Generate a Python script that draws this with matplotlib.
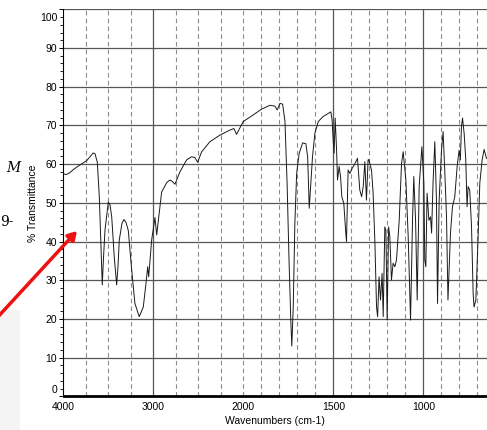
import numpy as np
import matplotlib
matplotlib.use("Agg")
import matplotlib.pyplot as plt
from matplotlib.transforms import ScaledTranslation
from matplotlib.patches import Rectangle

# IR spectrum (wavenumber cm-1, % transmittance)
wavenumber = [4000, 3972, 3928, 3891, 3817, 3742, 3669, 3650, 3624, 3602,
              3586, 3569, 3556, 3539, 3502, 3483, 3464, 3436, 3409, 3394,
              3380, 3350, 3328, 3306, 3280, 3242, 3206, 3158, 3113, 3083,
              3064, 3053, 3020, 2983, 2964, 2936, 2909, 2853, 2817, 2789,
              2761, 2706, 2631, 2576, 2539, 2509, 2464, 2372, 2261, 2150,
              2106, 2076, 2002, 1946, 1899, 1853, 1825, 1812, 1797, 1782,
              1769, 1757, 1746, 1736, 1731, 1723, 1714, 1704, 1690, 1671,
              1653, 1643, 1634, 1625, 1616, 1603, 1584, 1557, 1529, 1514,
              1507, 1501, 1496, 1490, 1482, 1477, 1468, 1460, 1453, 1442,
              1432, 1427, 1418, 1408, 1396, 1384, 1366, 1353, 1343, 1334,
              1325, 1316, 1307, 1303, 1288, 1279, 1269, 1260, 1254, 1246,
              1238, 1229, 1223, 1214, 1208, 1201, 1193, 1186, 1177, 1168,
              1158, 1149, 1134, 1121, 1112, 1097, 1084, 1071, 1060, 1053,
              1043, 1034, 1023, 1008, 997, 992, 986, 979, 969, 960,
              954, 946, 936, 927, 921, 912, 899, 890, 881, 871,
              863, 849, 838, 825, 812, 801, 794, 788, 782, 773,
              764, 757, 751, 742, 732, 723, 718, 708, 696, 686,
              673, 662, 649]
transmittance = [57.5, 57.3, 57.8, 58.6, 59.8, 60.9, 62.9, 62.7, 60.5, 51.6,
                 40.4, 28.8, 35.5, 42.9, 50.2, 49.5, 46.4, 36.1, 28.8, 33.6,
                 40.4, 44.7, 45.7, 45.0, 42.9, 32.7, 24.0, 20.6, 23.1, 29.2,
                 33.5, 30.9, 40.4, 46.2, 41.7, 47.3, 52.8, 55.2, 55.9, 55.5,
                 54.8, 58.0, 61.1, 61.9, 61.7, 60.5, 63.2, 65.8, 67.5, 68.8,
                 69.2, 67.7, 71.0, 72.7, 74.2, 75.2, 75.0, 74.0, 75.7, 75.5,
                 71.1, 54.8, 34.4, 18.9, 13.0, 23.1, 44.7, 57.6, 62.8, 65.5,
                 65.3, 61.9, 48.6, 55.1, 61.9, 67.9, 71.0, 72.3, 73.1, 73.5,
                 71.4, 66.2, 62.8, 71.9, 63.6, 55.9, 59.4, 56.8, 51.6, 49.9,
                 42.9, 40.0, 58.5, 57.6, 58.9, 59.8, 61.5, 53.3, 51.6, 54.2,
                 60.6, 50.7, 61.1, 61.2, 58.5, 52.5, 39.6, 23.1, 20.6, 30.9,
                 24.9, 31.8, 20.6, 43.8, 42.9, 19.7, 43.8, 41.2, 30.1, 34.4,
                 33.5, 35.3, 45.5, 60.2, 63.2, 55.9, 41.2, 19.7, 45.5, 56.8,
                 45.5, 24.9, 54.2, 64.5, 55.1, 35.3, 33.5, 52.5, 45.5, 46.4,
                 42.2, 55.1, 65.8, 50.7, 24.0, 50.7, 63.6, 68.4, 58.5, 46.4,
                 24.9, 42.2, 49.0, 51.6, 59.4, 63.6, 61.1, 69.7, 71.9, 67.9,
                 61.1, 49.0, 54.2, 53.3, 43.8, 26.6, 23.1, 24.9, 40.4, 55.1,
                 61.1, 63.8, 61.5]

x_labels = [4000, 3000, 2000, 1500, 1000]
solid_x = [3000, 1500, 1000]
dashed_x = [3750, 3500, 3250, 2750, 2500, 2250, 2000, 1900, 1800, 1700,
            1600, 1400, 1300, 1200, 1100, 900, 800, 700]

font = ['Liberation Sans Narrow', 'Liberation Sans', 'DejaVu Sans']


# OMNIC style axis: region below 2000 cm-1 is expanded two times
def forward(w):
    w = np.asarray(w, dtype=float)
    return np.where(w >= 2000, w, 2000 - (2000 - w) * 2)


def inverse(p):
    p = np.asarray(p, dtype=float)
    return np.where(p >= 2000, p, 2000 - (2000 - p) / 2)


fig = plt.figure(figsize=(4.87, 4.30), dpi=100)
ax = fig.add_axes([63.5 / 487, 1 - 396.4 / 430, (487 - 63.5) / 487, 387.1 / 430])
ax.set_xscale('function', functions=(forward, inverse))

for x in solid_x:
    ax.axvline(x, color='#555555', lw=0.9, zorder=1)
for x in dashed_x:
    ax.axvline(x, color='#8a8a8a', lw=0.8, ls=(0, (4, 3)), zorder=1)
for y in range(10, 101, 10):
    ax.axhline(y, color='#555555', lw=0.9, zorder=1)

ax.plot(wavenumber, transmittance, color='#1a1a1a', lw=0.7, zorder=3)

ax.set_xlim(4000, 646)
ax.set_ylim(0, 100)
ax.set_xticks(x_labels)
ax.set_xticklabels([str(v) for v in x_labels])
ax.set_xticks([], minor=True)
ax.set_yticks(range(0, 101, 10))
ax.set_yticks(range(0, 101, 2), minor=True)

ax.tick_params(axis='x', length=0, pad=4, labelsize=7.5)
ax.tick_params(axis='y', which='major', length=3, width=0.7, pad=1.5, labelsize=7.5)
ax.tick_params(axis='y', which='minor', length=2, width=0.6)
for lab in ax.get_xticklabels() + ax.get_yticklabels():
    lab.set_family(font)

# end labels sit inside the axis range, as in OMNIC
yticks = ax.yaxis.get_major_ticks()
yticks[-1].label1.set_transform(yticks[-1].label1.get_transform() +
                                ScaledTranslation(0, -0.074, fig.dpi_scale_trans))
yticks[0].label1.set_transform(yticks[0].label1.get_transform() +
                               ScaledTranslation(0, 0.077, fig.dpi_scale_trans))

for side in ['top', 'right']:
    ax.spines[side].set_visible(False)
ax.spines['left'].set_linewidth(0.8)
ax.spines['bottom'].set_linewidth(2.0)

ax.set_xlabel('Wavenumbers (cm-1)', fontsize=7.5, family=font, labelpad=3)
ax.set_ylabel('% Transmittance', fontsize=7.5, family=font, labelpad=1.5)

# bits of the surrounding page caught in the screenshot
fig.patches.append(Rectangle((0, 0), 20 / 487, 120 / 430, transform=fig.transFigure,
                             facecolor='#f4f4f4', edgecolor='none', zorder=0))
fig.text(20 / 487, 1 - 168 / 430, 'M', fontsize=10, family='DejaVu Serif',
         style='italic', ha='right', va='center')
fig.text(14 / 487, 1 - 222 / 430, '9-', fontsize=10, family='DejaVu Serif',
         ha='right', va='center')
fig.add_artist(matplotlib.patches.FancyArrowPatch(
    (-5 / 487, 1 - 320 / 430), (77 / 487, 1 - 231 / 430),
    transform=fig.transFigure, arrowstyle='-|>,head_length=5,head_width=3',
    color='#ee1111', lw=2.5, shrinkA=0, shrinkB=0))

fig.savefig('out.png', dpi=100)
